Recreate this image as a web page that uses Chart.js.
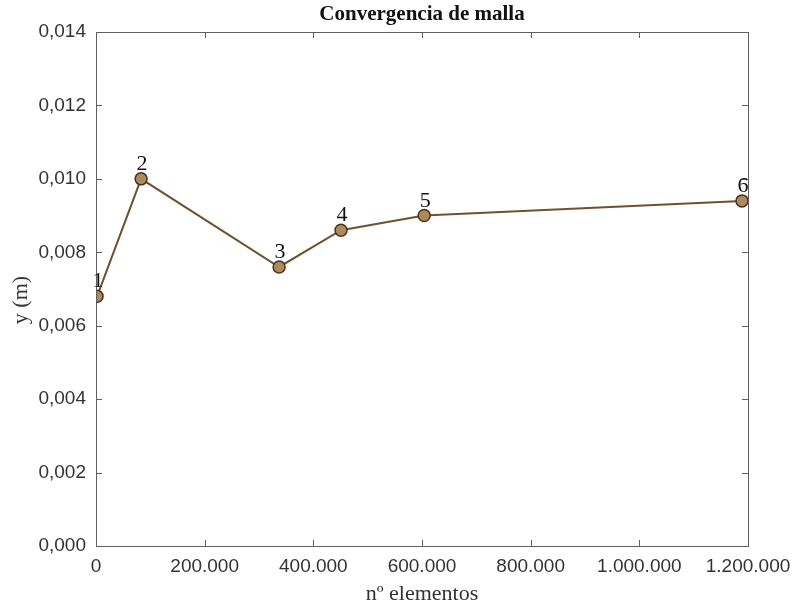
<!DOCTYPE html>
<html lang="es">
<head>
    <meta charset="UTF-8">
    <title>Convergencia de malla</title>
    <script src="https://cdn.jsdelivr.net/npm/chart.js"></script>
    <style>
        html, body { margin: 0; padding: 0; background: #fff; }
        #wrap { width: 793px; height: 605px; }
    </style>
</head>
<body>
    <div id="wrap"><canvas id="grafico"></canvas></div>

<script>
    // datos
    const etiquetas = ['1', '2', '3', '4', '5', '6'];
    const elementos = [2000, 83000, 337000, 451000, 604000, 1189000];
    const desplazamiento = [0.0068, 0.0100, 0.0076, 0.0086, 0.0090, 0.0094];

    const ticksX = [0, 200000, 400000, 600000, 800000, 1000000, 1200000];
    const ticksY = [0, 0.002, 0.004, 0.006, 0.008, 0.010, 0.012, 0.014];

    const colorEje = '#606060';
    const colorTexto = '#333333';

    function formatoMiles(v) {
        return Math.round(v).toString().replace(/\B(?=(\d{3})+(?!\d))/g, '.');
    }

    // caja completa con marcas hacia dentro (estilo MATLAB), títulos y números de punto
    const cajaPlugin = {
        id: 'caja',
        afterDraw(chart) {
            const { ctx, chartArea: a, scales } = chart;
            const x = scales.x, y = scales.y;
            ctx.save();
            ctx.strokeStyle = colorEje;
            ctx.lineWidth = 1;
            ctx.strokeRect(a.left + 0.5, a.top + 0.5, a.right - a.left, a.bottom - a.top);
            ctx.beginPath();
            ticksX.forEach(v => {
                const px = Math.round(x.getPixelForValue(v)) + 0.5;
                ctx.moveTo(px, a.bottom); ctx.lineTo(px, a.bottom - 6);
                ctx.moveTo(px, a.top); ctx.lineTo(px, a.top + 6);
            });
            ticksY.forEach(v => {
                const py = Math.round(y.getPixelForValue(v)) + 0.5;
                ctx.moveTo(a.left, py); ctx.lineTo(a.left + 6, py);
                ctx.moveTo(a.right, py); ctx.lineTo(a.right - 6, py);
            });
            ctx.stroke();

            // números de cada punto
            const meta = chart.getDatasetMeta(0);
            ctx.fillStyle = '#111';
            ctx.font = '22px "Liberation Serif"';
            ctx.textAlign = 'center';
            ctx.textBaseline = 'alphabetic';
            meta.data.forEach((p, i) => {
                ctx.fillText(etiquetas[i], p.x + 1, p.y - 9);
            });

            // títulos
            const cx = (a.left + a.right) / 2;
            ctx.fillStyle = '#111';
            ctx.font = 'bold 21px "Liberation Serif"';
            ctx.textBaseline = 'middle';
            ctx.fillText('Convergencia de malla', cx, 15);

            ctx.fillStyle = '#333';
            ctx.font = '22px "Liberation Serif"';
            ctx.fillText('nº elementos', cx, 594);

            ctx.translate(21, 300);
            ctx.rotate(-Math.PI / 2);
            ctx.fillText('y (m)', 0, 0);
            ctx.restore();
        }
    };

    new Chart(document.getElementById('grafico'), {
        type: 'line',
        data: {
            datasets: [{
                data: elementos.map((v, i) => ({ x: v, y: desplazamiento[i] })),
                borderColor: '#70502f',
                borderWidth: 2,
                backgroundColor: '#ac8a5c',
                pointBorderColor: '#4a3420',
                pointBorderWidth: 1.5,
                pointRadius: 6,
                tension: 0
            }]
        },
        options: {
            responsive: true,
            maintainAspectRatio: false,
            animation: false,
            layout: { padding: { top: 32, right: 45, left: 0, bottom: 0 } },
            plugins: {
                legend: { display: false },
                tooltip: { enabled: false }
            },
            scales: {
                x: {
                    type: 'linear',
                    min: 0,
                    max: 1200000,
                    afterFit(s) { s.height = 59; s.paddingLeft = 0; s.paddingRight = 0; },
                    afterBuildTicks(s) { s.ticks = ticksX.map(v => ({ value: v })); },
                    grid: { display: false, drawTicks: false },
                    border: { display: false },
                    ticks: {
                        padding: 9,
                        color: colorTexto,
                        font: { family: 'Liberation Sans', size: 19 },
                        maxRotation: 0,
                        callback: v => formatoMiles(v)
                    }
                },
                y: {
                    min: 0,
                    max: 0.014,
                    afterFit(s) { s.width = 96; s.paddingTop = 0; s.paddingBottom = 0; },
                    afterBuildTicks(s) { s.ticks = ticksY.map(v => ({ value: v })); },
                    grid: { display: false, drawTicks: false },
                    border: { display: false },
                    ticks: {
                        padding: 10,
                        color: colorTexto,
                        font: { family: 'Liberation Sans', size: 19 },
                        callback: v => v.toFixed(3).replace('.', ',')
                    }
                }
            }
        },
        plugins: [cajaPlugin]
    });
</script>
</body>
</html>
